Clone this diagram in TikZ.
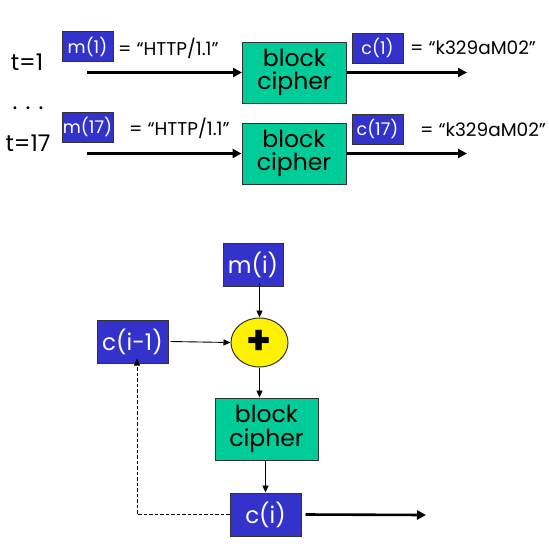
\documentclass[tikz,border=0pt]{standalone}
\usepackage{fontspec}
\setmainfont{Poppins}
\usetikzlibrary{arrows.meta,shapes.geometric}
\definecolor{boxblue}{HTML}{3333CC}
\definecolor{ciphergreen}{HTML}{00CC99}
\definecolor{edgegray}{HTML}{333333}
\tikzset{
  lbl/.style={draw=edgegray,line width=1pt,fill=boxblue,text=white,inner sep=0pt,font=\fontsize{17.5}{17.5}\selectfont},
  bigl/.style={lbl,font=\fontsize{23}{23}\selectfont},
  cipherbox/.style={draw=edgegray,line width=1pt,fill=ciphergreen,inner sep=0pt,align=center,
     minimum width=104pt,minimum height=61pt,font=\fontsize{23.5}{23.5}\selectfont},
  eqtext/.style={anchor=west,inner sep=0pt,font=\fontsize{18.5}{18.5}\selectfont},
  ttext/.style={inner sep=0pt,font=\fontsize{23}{23}\selectfont},
  thickarrow/.style={line width=2.6pt,-{Triangle[length=9pt,width=9pt]}},
  thinarrow/.style={line width=0.9pt,-{Triangle[length=7pt,width=6pt]}},
}
\begin{document}
\begin{tikzpicture}[x=1pt,y=-1pt]
\useasboundingbox (0,0) rectangle (549,547);
% top rows
\node[ttext] (t1) at (27,62) {t=1};
\node[lbl,minimum width=51pt,minimum height=30pt] (m1) at (87.5,46.5) {m(1)\hspace{8pt}};
\node[eqtext] (h1) at (118,48) {= “HTTP/1.1”};
\node[cipherbox] (b1) at (294.5,72.5) {block\\cipher};
\node[lbl,minimum width=51pt,minimum height=30pt] (c1) at (377.5,48) {c(1)\hspace{12pt}};
\node[eqtext] (k1) at (410,48) {= “k329aM02”};
\coordinate (s1) at (87,72.5);
\coordinate (e1) at (467,72.5);
\draw[thickarrow] (s1) -- (b1.west);
\draw[thickarrow] (b1.east) -- (e1);

\node[ttext] (dots) at (28,108) {. . .};
\node[ttext] (t17) at (28,143) {t=17};
\node[lbl,minimum width=51pt,minimum height=30pt] (m17) at (87.5,127) {m(17)};
\node[eqtext] (h17) at (129,128) {= “HTTP/1.1”};
\node[cipherbox] (b2) at (294,153.5) {block\\cipher};
\node[lbl,minimum width=51pt,minimum height=30pt] (c17) at (377.5,129) {c(17)};
\node[eqtext] (k17) at (420,130) {= “k329aM02”};
\coordinate (s2) at (87,153.5);
\coordinate (e2) at (467,153.5);
\draw[thickarrow] (s2) -- (b2.west);
\draw[thickarrow] (b2.east) -- (e2);

% CBC diagram
\node[bigl,minimum width=60pt,minimum height=43pt] (mi) at (253,264.5) {m(i)};
\node[draw=edgegray,line width=1pt,fill=yellow,ellipse,minimum width=57pt,minimum height=49pt,inner sep=0pt,
      font=\fontsize{40}{40}\bfseries\selectfont] (xo) at (259.5,342.5) {\raisebox{-2pt}{+}};
\node[bigl,minimum width=71pt,minimum height=43pt] (cim) at (132.5,341.5) {c(i-1)};
\node[cipherbox,minimum width=103pt,minimum height=62pt] (b3) at (266.5,429) {block\\cipher};
\node[bigl,minimum width=71pt,minimum height=43pt] (ci) at (265.5,514.5) {c(i)};
\coordinate (out) at (426,515);

\draw[thinarrow] ([yshift=4pt]mi.south -| xo.north) -- (xo.north);
\draw[thinarrow] ([xshift=2pt]cim.east) -- (xo.west);
\draw[thinarrow] (xo.south) -- (xo.south |- b3.north);
\draw[thinarrow] (b3.south -| ci.north) -- (ci.north);
\draw[thickarrow] ([xshift=4pt]ci.east) -- (out);
\draw[thinarrow,dashed,dash pattern=on 3.5pt off 2pt] (ci.west) -| ([xshift=4.5pt,yshift=5pt]cim.south);
\end{tikzpicture}
\end{document}
